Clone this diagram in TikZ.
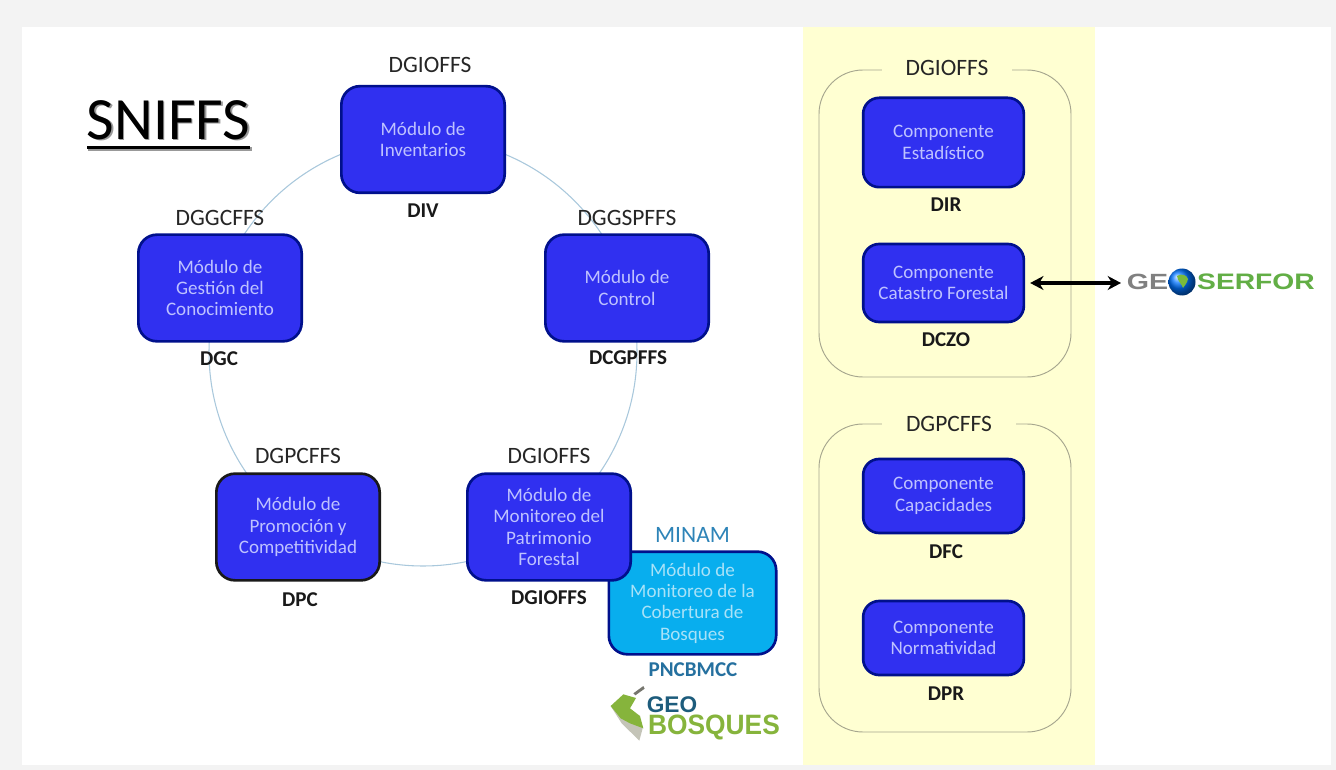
\documentclass[tikz,border=0pt]{standalone}
\usepackage{fontspec}
\setmainfont{Carlito}
\newfontfamily\logofont{Liberation Sans}
\usetikzlibrary{arrows.meta,shadings}
\definecolor{framegray}{HTML}{F3F3F3}
\definecolor{panelyellow}{HTML}{FFFFD2}
\definecolor{boxblue}{HTML}{3030F0}
\definecolor{boxedge}{HTML}{00108C}
\definecolor{boxtext}{HTML}{BEC2FF}
\definecolor{cyanbox}{HTML}{08AEEE}
\definecolor{cyantext}{HTML}{A8E2F8}
\definecolor{minamblue}{HTML}{2E84B8}
\definecolor{pncblue}{HTML}{25709F}
\definecolor{ringblue}{HTML}{A9C8DC}
\definecolor{groupline}{HTML}{A6A68E}
\definecolor{geogreen}{HTML}{86B43C}
\definecolor{geoteal}{HTML}{1D5C7C}
\definecolor{serforgreen}{HTML}{62AE45}
\definecolor{geogray}{HTML}{808080}
\definecolor{perugray}{HTML}{C4C4B8}
\tikzset{
  x=0.75pt,y=-0.75pt,
  modbox/.style={draw=boxedge,line width=2pt,fill=boxblue,rounded corners=14pt,
    text=boxtext,align=center,inner sep=0pt,minimum width=122.5pt,minimum height=80pt,
    font=\fontsize{14.3}{16}\selectfont},
  compbox/.style={modbox,minimum width=120.5pt,rounded corners=12pt},
  toplabel/.style={text=black!85,inner sep=0pt,font=\fontsize{17.6}{20}\selectfont},
  botlabel/.style={text=black!90,inner sep=0pt,font=\fontsize{15.8}{18}\selectfont\bfseries},
  groupbox/.style={draw=groupline,line width=0.7pt,rounded corners=33pt},
  grouplabel/.style={toplabel,fill=panelyellow,inner xsep=18pt,inner ysep=3pt},
  logotext/.style={inner sep=0pt,transform shape,anchor=base,font=\logofont\bfseries},
}
\begin{document}
\begin{tikzpicture}
\useasboundingbox (0,0) rectangle (1336,770);
\fill[framegray] (0,0) rectangle (1336,770);
\fill[white] (22,27) rectangle (1331,765);
\fill[panelyellow] (803,27) rectangle (1095,765);

% ring
\draw[ringblue,line width=0.8pt] (423,352) circle[radius=214*0.75pt];

% title
\node[text=black!40,inner sep=0pt,font=\fontsize{45}{50}\selectfont] at (170,121.5) {SNIFFS};
\node[text=black,inner sep=0pt,font=\fontsize{45}{50}\selectfont] (title) at (168.5,120) {SNIFFS};
\fill[black!40] (88,147.5) rectangle (252,151);
\fill[black] (87,146) rectangle (250,149.5);

% left modules
\node[draw=boxedge,line width=2pt,fill=cyanbox,rounded corners=14pt,text=cyantext,align=center,
  inner sep=0pt,minimum width=125.5pt,minimum height=77pt,font=\fontsize{14.3}{16}\selectfont]
  (mon2) at (692.5,603) {Módulo de\\Monitoreo de la\\Cobertura de\\Bosques};
\node[modbox] (inv) at (423,139.5) {Módulo de\\Inventarios};
\node[modbox] (ges) at (220,288) {Módulo de\\Gestión del\\Conocimiento};
\node[modbox] (con) at (627,288) {Módulo de\\Control};
\node[modbox,draw=black!90] (pro) at (298,527) {Módulo de\\Promoción y\\Competitividad};
\node[modbox] (mon) at (549,527) {Módulo de\\Monitoreo del\\Patrimonio\\Forestal};

\node[toplabel] (l1) at (430,65) {DGIOFFS};
\node[botlabel] (b1) at (423,211) {DIV};
\node[toplabel] (l2) at (220,218) {DGGCFFS};
\node[botlabel] (b2) at (219,359) {DGC};
\node[toplabel] (l3) at (627,218) {DGGSPFFS};
\node[botlabel] (b3) at (628,358) {DCGPFFS};
\node[toplabel] (l4) at (298,456) {DGPCFFS};
\node[botlabel] (b4) at (300,600) {DPC};
\node[toplabel] (l5) at (549,456) {DGIOFFS};
\node[botlabel] (b5) at (549,598) {DGIOFFS};
\node[toplabel,text=minamblue] (l6) at (692.5,535) {MINAM};
\node[botlabel,text=pncblue] (b6) at (693,670) {PNCBMCC};

% right groups
\draw[groupbox] (819,70) rectangle (1071,377);
\draw[groupbox] (819,424) rectangle (1071,732);
\node[grouplabel] (g1) at (947,68) {DGIOFFS};
\node[grouplabel] (g2) at (949,424) {DGPCFFS};
\node[compbox,minimum height=67pt] (est) at (943.5,142.5) {Componente\\Estadístico};
\node[compbox,minimum height=58.5pt] (cat) at (943.5,283) {Componente\\Catastro Forestal};
\node[compbox,minimum height=55.5pt] (cap) at (943.5,496) {Componente\\Capacidades};
\node[compbox,minimum height=55.5pt] (nor) at (943.5,638) {Componente\\Normatividad};
\node[botlabel] (d1) at (946,205) {DIR};
\node[botlabel] (d2) at (946,340) {DCZO};
\node[botlabel] (d3) at (946,552) {DFC};
\node[botlabel] (d4) at (946,694) {DPR};

% GEOSERFOR logo
\shade[ball color=blue!55!cyan] (1182,282) circle[radius=13.5*0.75pt];
\fill[serforgreen!85!yellow] (1177,276) .. controls (1181,273) and (1187,275) .. (1188,279)
  .. controls (1187,283) and (1185,285) .. (1183,288) .. controls (1182,284) and (1178,282) .. (1177,276);
\coordinate (globe) at (1121,283);
\node[logotext,text=geogray,xscale=1.3,font=\logofont\bfseries\fontsize{16.5}{18}\selectfont] (ge) at (1147.5,290) {GE};
\node[logotext,text=serforgreen,xscale=1.26,font=\logofont\bfseries\fontsize{16.8}{18}\selectfont] (serfor) at (1256,290) {SERFOR};
\draw[{Stealth[length=10pt,width=10.5pt]}-{Stealth[length=10pt,width=10.5pt]},line width=2.4pt,black]
  (cat.east) ++(5,0) coordinate (arrowstart) -- (globe);

% GEOBOSQUES logo
\begin{scope}[shift={(580,460)},x=0.25pt,y=-0.25pt]
  \fill[perugray] (92,738) -- (125,790) -- (178,842) -- (188,805) -- (150,775) -- cycle;
  \fill[geogreen] (92,738) -- (130,703) -- (168,714) -- (150,745) -- (180,768) -- (190,805)
    -- (150,790) -- (122,775) -- cycle;
  \fill[perugray!60!black] (160,700) -- (190,678) -- (194,686) -- (166,706) -- cycle;
\end{scope}
\node[logotext,text=geoteal,font=\logofont\bfseries\fontsize{17}{19}\selectfont] (geo) at (672,712) {GEO};
\node[logotext,text=geogreen,xscale=.94,font=\logofont\bfseries\fontsize{21}{24}\selectfont] (bosques) at (714,734) {BOSQUES};
\end{tikzpicture}
\end{document}
